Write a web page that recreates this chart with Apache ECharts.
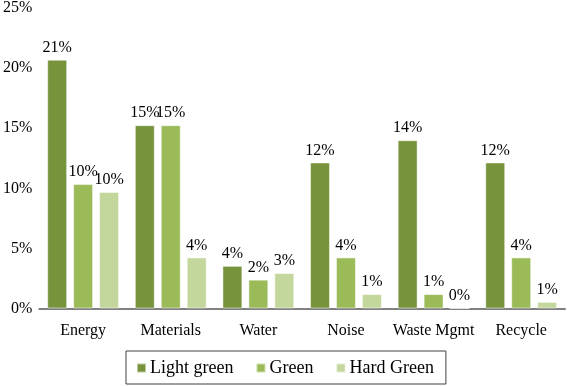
<!DOCTYPE html>
<html><head><meta charset="utf-8">
<script src="https://cdn.jsdelivr.net/npm/echarts@6/dist/echarts.min.js"></script>
<style>html,body{margin:0;padding:0;background:#fff}#c{width:567px;height:386px}</style>
</head><body><div id="c"></div>
<script>
const categories = ['Energy','Materials','Water','Noise','Waste Mgmt','Recycle'];
const lightGreen = [20.7, 15.25, 3.55, 12.15, 14.0, 12.15];
const green = [10.35, 15.25, 2.4, 4.25, 1.2, 4.25];
const hardGreen = [9.7, 4.25, 2.95, 1.2, 0, 0.55];
const seriesNames = ['Light green','Green','Hard Green'];
const colors = ['#77933c','#9bbb59','#c3d69b'];
const font = 'Liberation Serif, Times New Roman, serif';
const chart = echarts.init(document.getElementById('c'));
function mk(name, data, color){
  return {name, type:'bar', data, barGap:'30%', barCategoryGap:'18%',
    itemStyle:{color, borderColor:'rgba(255,255,255,0.5)', borderWidth:1},
    label:{show:true, position:'top', distance:4, color:'#000', fontFamily:font, fontSize:16,
      formatter:p=>Math.round(p.value)+'%'}};
}
chart.setOption({
  animation:false,
  grid:{left:38, right:2, top:8, bottom:77.5},
  legend:{left:126, top:351, itemWidth:9, itemHeight:9, itemGap:22,
    icon:'rect', borderColor:'#404040', borderWidth:1, padding:[8,12,7,10],
    textStyle:{fontFamily:font, fontSize:18, color:'#000', padding:[0,0,0,-1]},
    data:seriesNames},
  xAxis:{type:'category', data:categories,
    axisLine:{lineStyle:{color:'#808080', width:2}}, axisTick:{show:false},
    axisLabel:{fontFamily:font, fontSize:16, color:'#000', margin:14, interval:0}},
  yAxis:{type:'value', min:0, max:25, interval:5,
    axisLine:{show:false}, axisTick:{show:false}, splitLine:{show:false},
    axisLabel:{fontFamily:font, fontSize:16, color:'#000', margin:7, formatter:v=>v+'%'}},
  series:[mk(seriesNames[0], lightGreen, colors[0]), mk(seriesNames[1], green, colors[1]), mk(seriesNames[2], hardGreen, colors[2])]
});
</script></body></html>
